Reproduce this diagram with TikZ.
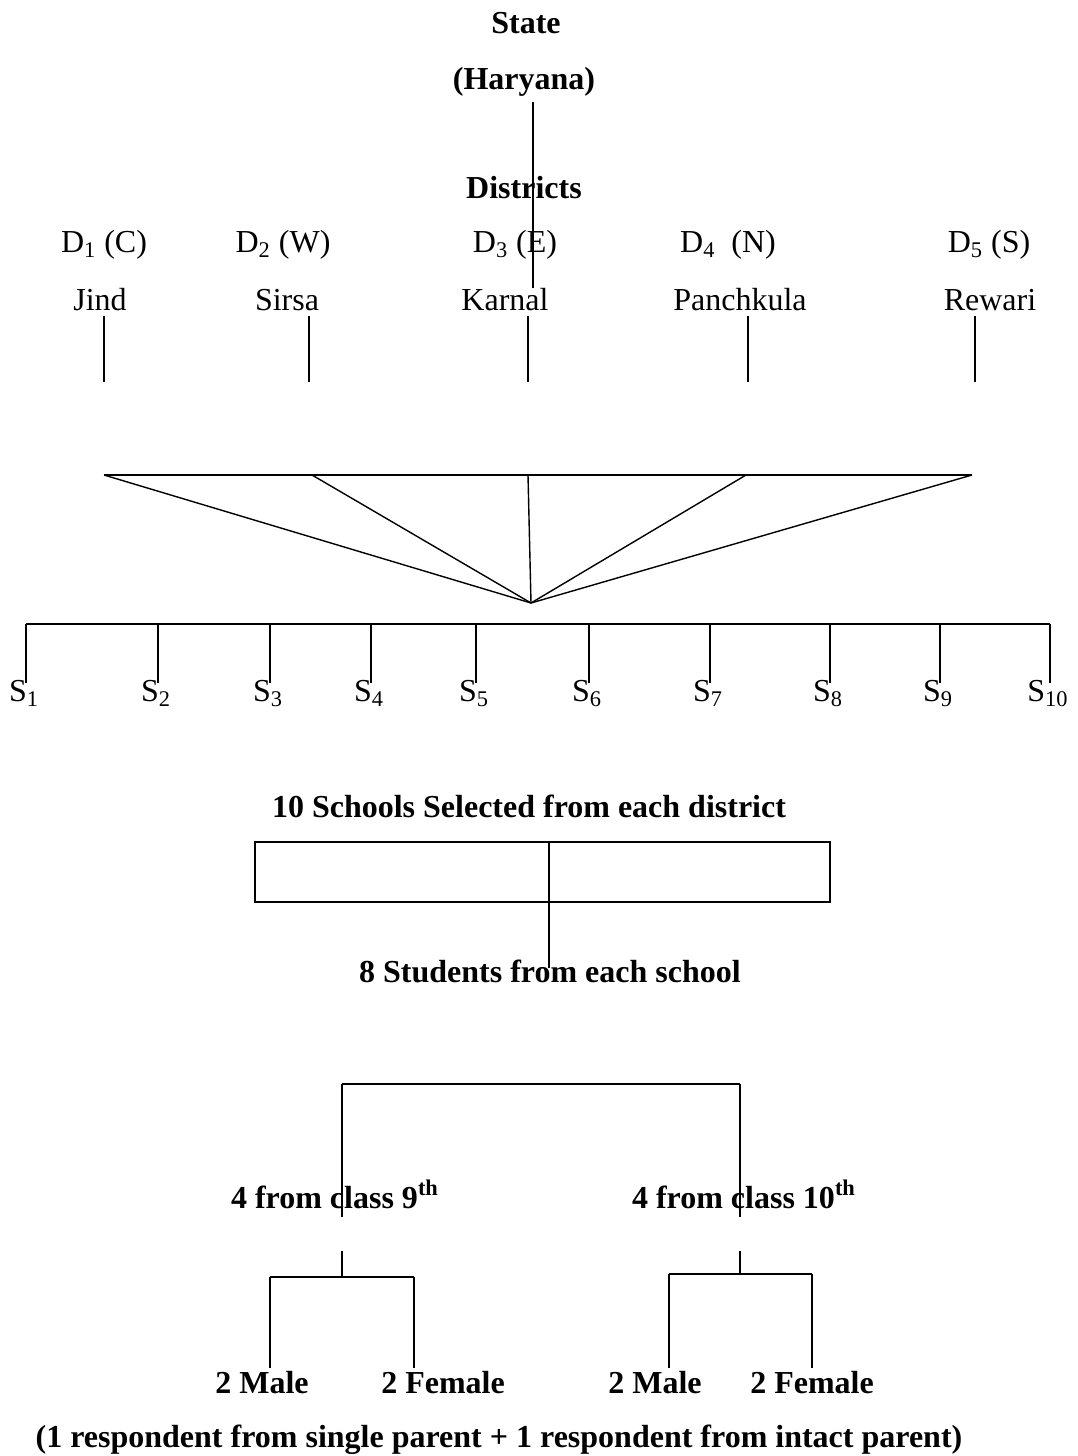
\documentclass[tikz,border=0pt]{standalone}
\usepackage{fontspec}
\setmainfont{Liberation Serif}
\usetikzlibrary{positioning}
\tikzset{
  head/.style={anchor=base, inner sep=1pt, font=\fontsize{16}{19}\selectfont\bfseries},
  place/.style={anchor=base, inner sep=1pt, font=\fontsize{16}{19}\selectfont},
  link/.style={line width=0.7pt},
  bar/.style={line width=1.3pt}
}

\begin{document}
\begin{tikzpicture}[x=0.5pt,y=-0.5pt]
  \useasboundingbox (0,0) rectangle (1077,1456);

  % Nodes (absolute, same layout as the sampling plan)
  \node[head] (state) at (526,33) {State};
  \node[head] (har)   at (524,89) {(Haryana)};
  \node[head] (dist)  at (524,198) {Districts};

  \node[place] (d1) at (104,252) {D\textsubscript{1} (C)};
  \node[place] (d2) at (283,252) {D\textsubscript{2} (W)};
  \node[place] (d3) at (515,252) {D\textsubscript{3} (E)};
  \node[place] (d4) at (728,252) {D\textsubscript{4}\ \ (N)};
  \node[place] (d5) at (989,252) {D\textsubscript{5} (S)};

  \node[place] (jind)   at (100,310) {Jind};
  \node[place] (sirsa)  at (287,310) {Sirsa};
  \node[place] (karnal) at (505,310) {Karnal};
  \node[place] (panch)  at (740,310) {Panchkula};
  \node[place] (rewari) at (990,310) {Rewari};

  \node[head] (sel) at (529,817) {10 Schools Selected from each district};
  \node[draw, link, minimum width=287.5pt, minimum height=30pt, inner sep=0pt] (box) at (542.5,872) {};
  \node[head] (stu) at (550,982) {8 Students from each school};

  \node[head] (c9)  at (335,1208) {4 from class 9\textsuperscript{th}};
  \node[head] (c10) at (744,1208) {4 from class 10\textsuperscript{th}};

  \node[head] (m9)  at (262,1393) {2 Male};
  \node[head] (f9)  at (443,1393) {2 Female};
  \node[head] (m10) at (655,1393) {2 Male};
  \node[head] (f10) at (812,1393) {2 Female};
  \node[head] (resp) at (499,1447) {(1 respondent from single parent + 1 respondent from intact parent)};

  % Junction points
  \coordinate (hs) at (533,102);
  \coordinate (he) at (533,288);
  \coordinate (apex) at (531,603);
  \coordinate (bs) at (549,842);
  \coordinate (be) at (549,968);

  % State down to districts
  \draw[link] (hs) -- (he);

  % Districts into the fan
  \foreach \x/\y [count=\i] in {104/104, 309/312, 528/528, 748/746, 975/972} {
    \coordinate (u\i) at (\x,316);
    \coordinate (v\i) at (\x,382);
    \coordinate (w\i) at (\y,475);
    \draw[link] (u\i) -- (v\i);
    \draw[link] (w\i) -- (apex);
  }
  \draw[bar] (w1) -- (w5);

  % Schools
  \coordinate (sa) at (26,624);
  \coordinate (sb) at (1050,624);
  \draw[bar] (sa) -- (sb);
  \foreach \x [count=\i] in {26,158,270,371,476,589,710,830,940,1050} {
    \node[place] (s\i) at (\x-2,701) {S\textsubscript{\i}};
    \coordinate (q\i) at (\x,624);
    \coordinate (r\i) at (\x,683);
    \draw[link] (q\i) -- (r\i);
  }

  % Students
  \draw[link] (bs) -- (be);

  % Classes
  \coordinate (ka) at (342,1084);
  \coordinate (kb) at (740,1084);
  \coordinate (ka2) at (342,1217);
  \coordinate (kb2) at (740,1217);
  \draw[bar] (ka) -- (kb);
  \draw[link] (ka) -- (ka2);
  \draw[link] (kb) -- (kb2);

  % Gender split, class 9
  \coordinate (g9) at (342,1251);
  \coordinate (g9b) at (342,1277);
  \coordinate (g9l) at (270,1277);
  \coordinate (g9r) at (414,1277);
  \draw[link] (g9) -- (g9b);
  \draw[bar] (g9l) -- (g9r);
  \draw[link] (g9l) -- (m9.north -| g9l);
  \draw[link] (g9r) -- (f9.north -| g9r);

  % Gender split, class 10
  \coordinate (g10) at (740,1251);
  \coordinate (g10b) at (740,1274);
  \coordinate (g10l) at (669,1274);
  \coordinate (g10r) at (812,1274);
  \draw[link] (g10) -- (g10b);
  \draw[bar] (g10l) -- (g10r);
  \draw[link] (g10l) -- (m10.north -| g10l);
  \draw[link] (g10r) -- (f10.north -| g10r);
\end{tikzpicture}
\end{document}
